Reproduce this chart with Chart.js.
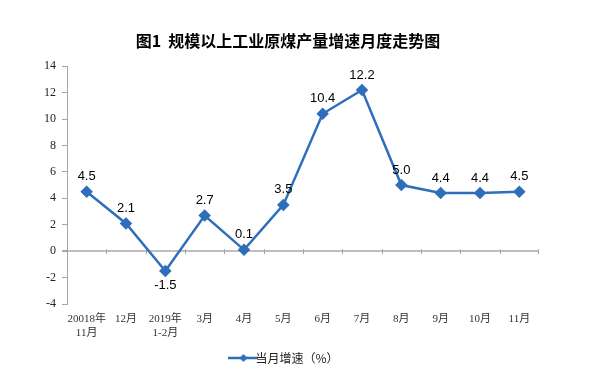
<!DOCTYPE html>
<html>
<head>
<meta charset="utf-8">
<script src="https://cdn.jsdelivr.net/npm/chart.js@4/dist/chart.umd.min.js"></script>
<style>
  html, body { margin: 0; padding: 0; background: #fff; }
  #wrap { width: 616px; height: 392px; }
</style>
</head>
<body>
<div id="wrap"><canvas id="chart" width="616" height="392"></canvas></div>
<script>
// data
const months = [['20018年', '11月'], '12月', ['2019年', '1-2月'], '3月', '4月', '5月', '6月', '7月', '8月', '9月', '10月', '11月'];
const growth = [4.5, 2.1, -1.5, 2.7, 0.1, 3.5, 10.4, 12.2, 5.0, 4.4, 4.4, 4.5];
const yTicks = [-4, -2, 0, 2, 4, 6, 8, 10, 12, 14];

const lineColor = '#2F6EBA';

// legend marker: short line with a diamond
const marker = document.createElement('canvas');
marker.width = 30;
marker.height = 10;
(function () {
  const c = marker.getContext('2d');
  c.strokeStyle = lineColor;
  c.lineWidth = 2.5;
  c.beginPath();
  c.moveTo(0, 5);
  c.lineTo(30, 5);
  c.stroke();
  c.fillStyle = lineColor;
  c.beginPath();
  c.moveTo(15, 1);
  c.lineTo(19, 5);
  c.lineTo(15, 9);
  c.lineTo(11, 5);
  c.closePath();
  c.fill();
})();

// value labels above (or below) each point
const valueLabels = {
  id: 'valueLabels',
  afterDatasetsDraw(chart) {
    const ctx = chart.ctx;
    const meta = chart.getDatasetMeta(0);
    ctx.save();
    ctx.font = '13px "Liberation Sans", Arial, sans-serif';
    ctx.fillStyle = '#000';
    ctx.textAlign = 'center';
    ctx.textBaseline = 'middle';
    meta.data.forEach((pt, i) => {
      const v = growth[i];
      const dy = v < 0 ? 14 : -15;
      ctx.fillText(v.toFixed(1), pt.x, pt.y + dy);
    });
    ctx.restore();
  }
};

// small tick marks on the zero line at category boundaries
const zeroTicks = {
  id: 'zeroTicks',
  beforeDatasetsDraw(chart) {
    const ctx = chart.ctx;
    const x = chart.scales.x;
    const y0 = chart.scales.y.getPixelForValue(0);
    ctx.save();
    ctx.strokeStyle = '#A6A6A6';
    ctx.lineWidth = 1;
    for (let i = 1; i <= months.length; i++) {
      const px = i < months.length
        ? Math.round((x.getPixelForValue(i - 1) + x.getPixelForValue(i)) / 2) + 0.5
        : Math.round(chart.chartArea.right) - 0.5;
      ctx.beginPath();
      ctx.moveTo(px, y0 - 2);
      ctx.lineTo(px, y0 + 3);
      ctx.stroke();
    }
    ctx.restore();
  }
};

new Chart(document.getElementById('chart'), {
  type: 'line',
  data: {
    labels: months,
    datasets: [{
      label: '当月增速（%）',
      data: growth,
      borderColor: lineColor,
      backgroundColor: lineColor,
      borderWidth: 2.5,
      pointStyle: 'rectRot',
      pointRadius: 4.5,
      pointHoverRadius: 4.5,
      tension: 0,
      fill: false
    }]
  },
  options: {
    responsive: false,
    animation: false,
    layout: { padding: { left: 37, right: 77, top: 0, bottom: 18 } },
    plugins: {
      title: {
        display: true,
        text: '图1  规模以上工业原煤产量增速月度走势图',
        color: '#000',
        font: { family: '"Noto Sans CJK SC", sans-serif', size: 16, weight: 'bold' },
        padding: { top: 31, bottom: 16 }
      },
      legend: {
        position: 'bottom',
        labels: {
          usePointStyle: true,
          color: '#222',
          font: { family: '"Noto Sans CJK SC", sans-serif', size: 12 },
          padding: 6,
          generateLabels(chart) {
            const items = Chart.defaults.plugins.legend.labels.generateLabels(chart);
            items.forEach(it => { it.pointStyle = marker; });
            return items;
          }
        }
      },
      tooltip: { enabled: false }
    },
    scales: {
      x: {
        offset: true,
        border: { display: false },
        grid: { display: false, drawTicks: false },
        ticks: {
          color: '#333',
          padding: 8,
          maxRotation: 0,
          autoSkip: false,
          font: { family: '"Liberation Serif", "Noto Sans CJK SC", serif', size: 11, lineHeight: 1.25 }
        },
        afterFit(s) { s.height = 42; }
      },
      y: {
        min: -4,
        max: 14,
        afterBuildTicks(s) { s.ticks = yTicks.map(v => ({ value: v })); },
        border: { display: true, color: '#A6A6A6', width: 1 },
        grid: {
          drawTicks: true,
          tickLength: 5,
          tickColor: '#A6A6A6',
          color: ctx => (ctx.tick && ctx.tick.value === 0 ? '#BFBFBF' : 'rgba(0,0,0,0)'),
          lineWidth: ctx => (ctx.tick && ctx.tick.value === 0 ? 2 : 1)
        },
        ticks: {
          color: '#222',
          padding: 6,
          font: { family: '"Liberation Serif", serif', size: 12 }
        },
        afterFit(s) { s.width = 30; }
      }
    }
  },
  plugins: [zeroTicks, valueLabels]
});
</script>
</body>
</html>
